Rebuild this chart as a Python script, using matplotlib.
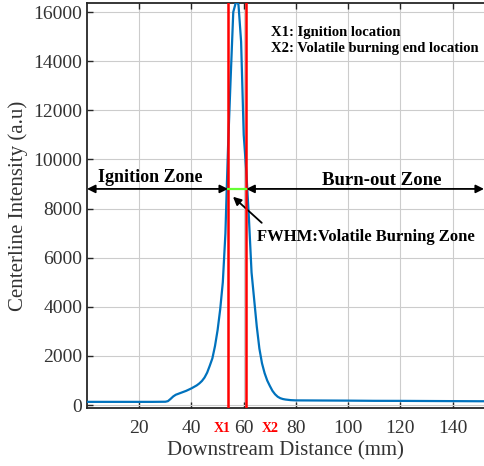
import matplotlib
matplotlib.use("Agg")
import matplotlib.pyplot as plt
import numpy as np

# ---- data ----
distance_mm = [0, 5, 10, 15, 20, 25, 30, 31, 32, 33, 34, 36, 38, 40, 42, 43, 44, 45, 46,
               47, 48, 49, 50, 51, 52, 53, 53.5, 54, 55, 56, 57, 57.3, 58, 59, 60, 61, 62,
               63, 64, 65, 66, 67, 68, 69, 70, 71, 72, 73, 74, 75, 76, 78, 80, 90, 100,
               110, 120, 130, 140, 150, 153]
intensity = [130, 130, 130, 130, 130, 130, 135, 160, 250, 350, 420, 500, 580, 680, 800,
             880, 980, 1120, 1320, 1600, 1900, 2400, 3050, 3900, 5000, 7000, 8800, 10500,
             13300, 16000, 16400, 16450, 16300, 14800, 11000, 9500, 7600, 5400, 4300,
             3200, 2300, 1700, 1300, 1000, 780, 580, 440, 340, 280, 245, 225, 200, 190,
             185, 180, 172, 170, 165, 160, 155, 155]
x1_ignition = 54.0
x2_end = 61.0
fwhm_level = 8800
x_ticks = [20, 40, 60, 80, 100, 120, 140]
y_ticks = [0, 2000, 4000, 6000, 8000, 10000, 12000, 14000, 16000]
x_limits = (0, 152)
y_limits = (-120, 16370)

serif = ["Liberation Serif", "DejaVu Serif"]
plt.rcParams["font.family"] = serif

W, H = 484, 466
fig = plt.figure(figsize=(W / 100, H / 100), dpi=100)
ax = fig.add_axes([87 / W, 58 / H, (W - 87) / W, (408 - 3) / H])

ax.plot(distance_mm, intensity, color="#0072BD", lw=1.6, zorder=3)
ax.axvline(x1_ignition, color="#FF0000", lw=1.8, zorder=4)
ax.axvline(x2_end, color="#FF0000", lw=1.8, zorder=4)
ax.plot([x1_ignition, x2_end], [fwhm_level, fwhm_level], color="#66FF33", lw=1.6, zorder=5)

ax.set_xlim(*x_limits)
ax.set_ylim(*y_limits)
ax.set_xticks(x_ticks)
ax.set_yticks(y_ticks)
ax.grid(True, color="#cccccc", lw=0.8)
ax.set_axisbelow(True)
ax.tick_params(direction="in", top=True, right=False, length=4, width=1.0,
               labelsize=14, color="#262626", labelcolor="#333333")
ax.tick_params(axis="x", pad=8.5)
for s in ["left", "bottom", "top"]:
    ax.spines[s].set_color("#262626")
    ax.spines[s].set_linewidth(1.3)
ax.spines["right"].set_visible(False)

ax.set_xlabel("Downstream Distance (mm)", fontsize=15, color="#333333", labelpad=3)
ax.set_ylabel("Centerline Intensity (a.u)", fontsize=15, color="#333333", labelpad=4)

# zone arrows
arr = dict(arrowstyle="<|-|>", color="black", lw=1.3, mutation_scale=12, shrinkA=0, shrinkB=0)
ax.annotate("", xy=(x1_ignition, fwhm_level), xytext=(x_limits[0], fwhm_level), arrowprops=arr)
ax.annotate("", xy=(x2_end, fwhm_level), xytext=(x_limits[1], fwhm_level), arrowprops=arr)
ax.text(24.2, 9280, "Ignition Zone", fontsize=13, fontweight="bold", ha="center", va="center")
ax.text(112.7, 9150, "Burn-out Zone", fontsize=13.5, fontweight="bold", ha="center", va="center")

ax.annotate("", xy=(55.9, 8480), xytext=(66.9, 7420),
            arrowprops=dict(arrowstyle="-|>", color="black", lw=1.3, mutation_scale=12,
                            shrinkA=0, shrinkB=0))
ax.text(64.9, 6840, "FWHM:Volatile Burning Zone", fontsize=12, fontweight="bold",
        ha="left", va="center")

ax.text(70.3, 15170, "X1: Ignition location", fontsize=10.5, fontweight="bold",
        ha="left", va="center")
ax.text(70.3, 14530, "X2: Volatile burning end location", fontsize=10.5, fontweight="bold",
        ha="left", va="center")

trans = ax.get_xaxis_transform()
ax.text(51.7, -0.05, "X1", transform=trans, color="#FF0000", fontsize=10,
        fontweight="bold", ha="center", va="center")
ax.text(70.0, -0.05, "X2", transform=trans, color="#FF0000", fontsize=10,
        fontweight="bold", ha="center", va="center")

fig.savefig("out.png", dpi=100)
